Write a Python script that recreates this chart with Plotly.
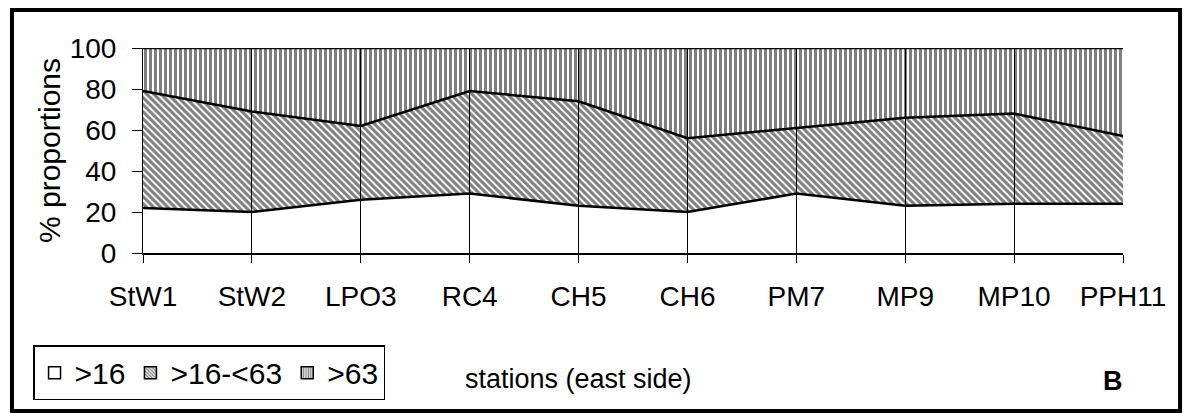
import plotly.graph_objects as go

# Sediment grain-size fractions (% of sample) per station, east side
stations = ["StW1", "StW2", "LPO3", "RC4", "CH5", "CH6", "PM7", "MP9", "MP10", "PPH11"]
fine = [22, 20, 26, 29, 23, 20, 29, 23, 24, 24]        # >16
medium = [57, 49, 36, 50, 51, 36, 32, 43, 44, 33]      # >16-<63
coarse = [100 - f - m for f, m in zip(fine, medium)]   # >63
series_names = [">16", ">16-<63", ">63"]
y_ticks = [0, 20, 40, 60, 80, 100]

FONT = "Liberation Sans, Arial, sans-serif"
xi = list(range(len(stations)))

patterns = [
    dict(shape="", size=4, solidity=0.3),
    dict(shape="\\", size=5, solidity=0.62),
    dict(shape="|", size=5, solidity=0.6),
]

fig = go.Figure()

# stacked areas
for name, vals, pat in zip(series_names, [fine, medium, coarse], patterns):
    kw = {}
    if pat["shape"]:
        kw["fillpattern"] = dict(shape=pat["shape"], fgcolor="black",
                                 bgcolor="rgba(0,0,0,0)", size=pat["size"],
                                 solidity=pat["solidity"])
    fig.add_trace(go.Scatter(
        x=xi, y=vals, name=name, stackgroup="one", mode="lines",
        line=dict(color="black", width=2.5), fillcolor="rgba(0,0,0,0)",
        showlegend=False, hoverinfo="skip", **kw,
    ))

# legend swatches: bars on a hidden axis so only their legend squares appear
for name, pat in zip(series_names, patterns):
    fig.add_trace(go.Bar(
        x=[0], y=[1], name=name, yaxis="y2", hoverinfo="skip",
        marker=dict(color="white", line=dict(color="black", width=1.5),
                    pattern=dict(shape=pat["shape"], fgcolor="black", bgcolor="white",
                                 size=3, solidity=0.55)),
    ))

fig.update_xaxes(
    range=[0, len(stations) - 1], tickmode="array", tickvals=xi, ticktext=stations,
    showgrid=True, gridcolor="black", gridwidth=1,
    showline=True, linecolor="black", linewidth=1.5,
    ticks="outside", ticklen=8, tickcolor="black", tickwidth=1,
    ticklabelstandoff=10,
    tickfont=dict(family=FONT, size=28, color="black"),
    zeroline=False, fixedrange=True,
)
fig.update_yaxes(
    range=[0, 100], tickmode="array", tickvals=y_ticks,
    showgrid=False, zeroline=False,
    showline=True, linecolor="black", linewidth=1,
    ticks="outside", ticklen=10, tickcolor="black", tickwidth=1,
    ticklabelstandoff=10,
    tickfont=dict(family=FONT, size=28, color="black"),
    title=dict(text="% proportions", font=dict(family=FONT, size=30, color="black"), standoff=0),
    fixedrange=True,
)
fig.update_layout(yaxis2=dict(overlaying="y", range=[50, 60], visible=False, fixedrange=True))

fig.add_annotation(
    text="stations (east side)", xref="paper", yref="paper",
    x=0.444, y=-0.698, showarrow=False,
    font=dict(family=FONT, size=27, color="black"),
)
fig.add_annotation(
    text="<b>B</b>", xref="paper", yref="paper",
    x=1.002, y=-0.707, showarrow=False,
    font=dict(family=FONT, size=27, color="black"),
)

# outer chart frame
fig.add_shape(
    type="rect", xref="paper", yref="paper",
    x0=-0.1337, x1=1.0582, y0=-0.771, y1=1.185,
    line=dict(color="black", width=4), fillcolor="rgba(0,0,0,0)", layer="below",
)

fig.update_layout(
    width=1188, height=413,
    margin=dict(l=143, r=65, t=48, b=160),
    paper_bgcolor="white", plot_bgcolor="white",
    font=dict(family=FONT, size=28, color="black"),
    showlegend=True,
    legend=dict(
        orientation="h", x=-0.1122, xanchor="left", y=-0.45, yanchor="top",
        traceorder="normal",
        bordercolor="black", borderwidth=1.5, bgcolor="white",
        font=dict(family=FONT, size=30, color="black"),
        itemclick=False, itemdoubleclick=False, itemwidth=30,
    ),
)

fig.write_html("out.html", config={"displayModeBar": False})
